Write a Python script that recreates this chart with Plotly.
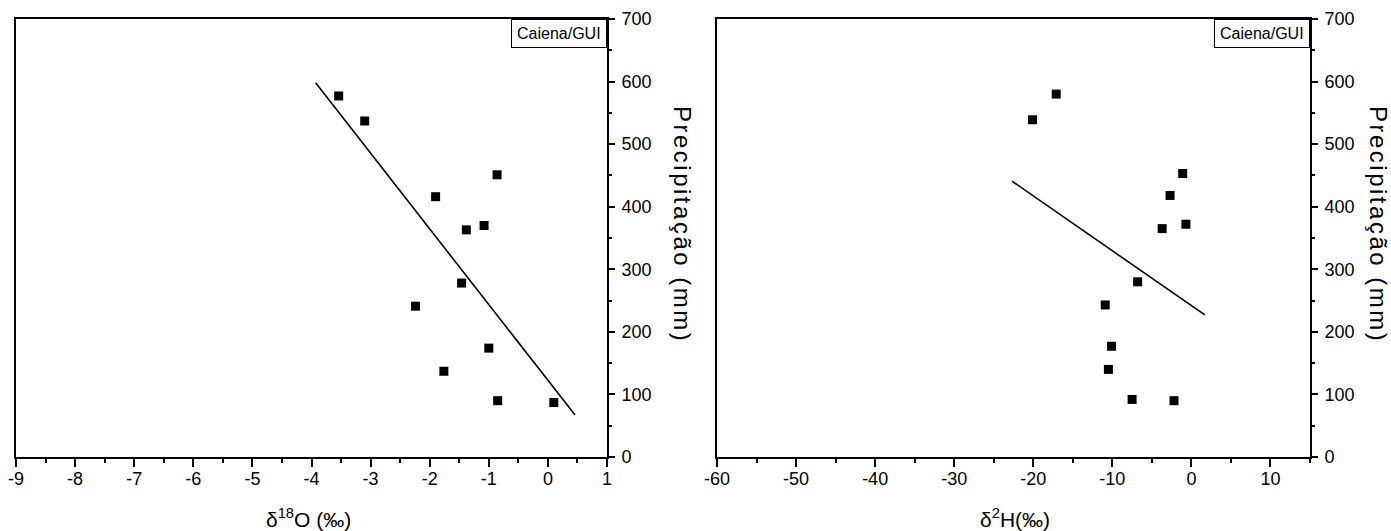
import plotly.graph_objects as go

# Left panel: delta 18O vs precipitation
d18o = [-3.54, -3.10, -0.86, -1.90, -1.08, -1.38, -1.46, -2.24, -1.00, -1.76, -0.85, 0.10]
prec_o = [577, 537, 451, 416, 370, 363, 278, 241, 174, 137, 90, 87]
fit_o_x = [-3.93, 0.46]
fit_o_y = [598, 67]

# Right panel: delta 2H vs precipitation
d2h = [-17.1, -20.1, -1.1, -2.7, -0.7, -3.7, -6.8, -10.9, -10.1, -10.5, -7.5, -2.2]
prec_h = [580, 539, 453, 418, 372, 365, 280, 243, 177, 140, 92, 90]
fit_h_x = [-22.7, 1.7]
fit_h_y = [441, 227]

# Tick labels
xo_ticks = [-9, -8, -7, -6, -5, -4, -3, -2, -1, 0, 1]
xo_labels = ["-9", "-8", "-7", "-6", "-5", "-4", "-3", "-2", "-1", "0", "1"]
xh_ticks = [-60, -50, -40, -30, -20, -10, 0, 10]
xh_labels = ["-60", "-50", "-40", "-30", "-20", "-10", "0", "10"]
y_ticks = [0, 100, 200, 300, 400, 500, 600, 700]
y_labels = ["0", "100", "200", "300", "400", "500", "600", "700"]

station = "Caiena/GUI"
ytitle = "Precipitação (mm)"
xtitle_o = "δ<sup>18</sup>O (‰)"
xtitle_h = "δ<sup>2</sup>H(‰)"

W, H = 1391, 531
FONT = "Arial, Liberation Sans, sans-serif"

def px(x):
    return x / W

def py(y):
    return 1 - y / H

fig = go.Figure()

fig.add_trace(go.Scatter(x=d18o, y=prec_o, mode="markers",
                         marker=dict(symbol="square", color="black", size=9),
                         xaxis="x", yaxis="y", showlegend=False))
fig.add_trace(go.Scatter(x=fit_o_x, y=fit_o_y, mode="lines",
                         line=dict(color="black", width=1.6),
                         xaxis="x", yaxis="y", showlegend=False))
fig.add_trace(go.Scatter(x=d2h, y=prec_h, mode="markers",
                         marker=dict(symbol="square", color="black", size=9),
                         xaxis="x2", yaxis="y2", showlegend=False))
fig.add_trace(go.Scatter(x=fit_h_x, y=fit_h_y, mode="lines",
                         line=dict(color="black", width=1.6),
                         xaxis="x2", yaxis="y2", showlegend=False))

ydom = [py(457), py(19)]
dom1 = [px(16), px(607)]
dom2 = [px(717), px(1310)]

def xax(rng, ticks, labels, dom, anchor, minor_dtick):
    return dict(domain=dom, range=rng, tickmode="array", tickvals=ticks, ticktext=labels,
                anchor=anchor, automargin=False,
                showline=True, linecolor="black", linewidth=2, mirror=True,
                ticks="outside", ticklen=8, tickwidth=2, tickcolor="black",
                ticklabelstandoff=-4,
                minor=dict(dtick=minor_dtick, tick0=0, ticks="outside", ticklen=4, tickwidth=2, tickcolor="black"),
                showgrid=False, zeroline=False,
                tickfont=dict(family=FONT, size=18, color="black"))

def yax(dom, anchor):
    return dict(domain=dom, range=[0, 700], tickmode="array", tickvals=y_ticks, ticktext=y_labels,
                anchor=anchor, side="right", automargin=False,
                showline=True, linecolor="black", linewidth=2, mirror=True,
                ticks="outside", ticklen=6, tickwidth=1.5, tickcolor="black",
                ticklabelstandoff=3,
                minor=dict(dtick=50, tick0=0, ticks="outside", ticklen=3, tickwidth=1.5, tickcolor="black"),
                showgrid=False, zeroline=False,
                tickfont=dict(family=FONT, size=18, color="black"))

fig.update_layout(
    width=W, height=H,
    margin=dict(l=0, r=0, t=0, b=0, autoexpand=False),
    paper_bgcolor="white", plot_bgcolor="white",
    xaxis=xax([-9, 1], xo_ticks, xo_labels, dom1, "y", 0.5),
    yaxis=yax(ydom, "x"),
    xaxis2=xax([-60, 15], xh_ticks, xh_labels, dom2, "y2", 5),
    yaxis2=yax(ydom, "x2"),
)

annotations = []
for xref, yref in (("x", "y"), ("x2", "y2")):
    annotations.append(dict(text=station, xref=xref + " domain", yref=yref + " domain",
                            x=1, y=1, xanchor="right", yanchor="top", showarrow=False,
                            font=dict(family=FONT, size=16, color="black"),
                            bordercolor="black", borderwidth=1, borderpad=5, bgcolor="white"))
annotations.append(dict(text=xtitle_o, xref="paper", yref="paper", x=px(308), y=py(518),
                        xanchor="center", yanchor="middle", showarrow=False,
                        font=dict(family=FONT, size=21, color="black")))
annotations.append(dict(text=xtitle_h, xref="paper", yref="paper", x=px(1015), y=py(518),
                        xanchor="center", yanchor="middle", showarrow=False,
                        font=dict(family=FONT, size=21, color="black")))
for xp in (682, 1378):
    annotations.append(dict(text='<span style="letter-spacing:2.5px">' + ytitle + '</span>',
                            xref="paper", yref="paper", x=px(xp), y=py(224),
                            xanchor="center", yanchor="middle", textangle=90, showarrow=False,
                            font=dict(family=FONT, size=24, color="black")))
fig.update_layout(annotations=annotations)

fig.write_html("out.html")
